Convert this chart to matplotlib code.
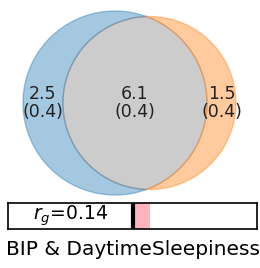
import matplotlib.pyplot as plt
import numpy as np
from matplotlib.patches import Polygon

# region sizes: left only, shared, right only (with SE)
sizes = [2.5, 6.1, 1.5]
ses = [0.4, 0.4, 0.4]
rg = 0.14
pair_label = "BIP & DaytimeSleepiness"
colors = ["tab:blue", "gray", "tab:orange"]


def lens_area(d, r1, r2):
    a1 = np.arccos((d**2 + r1**2 - r2**2) / (2 * d * r1))
    a2 = np.arccos((d**2 + r2**2 - r1**2) / (2 * d * r2))
    k = (-d + r1 + r2) * (d + r1 - r2) * (d - r1 + r2) * (d + r1 + r2)
    return r1**2 * a1 + r2**2 * a2 - 0.5 * np.sqrt(k)


def solve_distance(r1, r2, target):
    lo, hi = abs(r1 - r2) + 1e-9, r1 + r2 - 1e-9
    for _ in range(100):
        mid = 0.5 * (lo + hi)
        if lens_area(mid, r1, r2) > target:
            lo = mid
        else:
            hi = mid
    return 0.5 * (lo + hi)


r1 = np.sqrt((sizes[0] + sizes[1]) / np.pi)
r2 = np.sqrt((sizes[1] + sizes[2]) / np.pi)
d = solve_distance(r1, r2, sizes[1])

x0 = (d**2 + r1**2 - r2**2) / (2 * d)
y0 = np.sqrt(r1**2 - x0**2)
ta = np.arctan2(y0, x0)
tb = np.arctan2(y0, d - x0)


def arc(cx, r, t_from, t_to, n=200):
    t = np.linspace(t_from, t_to, n)
    return np.column_stack([cx + r * np.cos(t), r * np.sin(t)])


left = np.vstack([arc(0, r1, ta, 2 * np.pi - ta), arc(d, r2, np.pi + tb, np.pi - tb)])
mid = np.vstack([arc(0, r1, -ta, ta), arc(d, r2, np.pi - tb, np.pi + tb)])
right = np.vstack([arc(d, r2, np.pi - tb, -(np.pi - tb)), arc(0, r1, -ta, ta)])

W, H = 260, 268
fig = plt.figure(figsize=(W / 100, H / 100), dpi=100)

# venn axes, scaled so the diagram sits in the upper part
s = 92 / r1
cx_px, cy_px = 115, 103
ax = fig.add_axes([0, 0, 1, 1])
ax.set_xlim(-cx_px / s, (W - cx_px) / s)
ax.set_ylim((cy_px - H) / s, cy_px / s)
ax.axis("off")

for pts, c in zip([left, mid, right], colors):
    ax.add_patch(Polygon(pts, closed=True, color=c, alpha=0.4, lw=1))

label_x = [(-r1 + d - r2) / 2, (d - r2 + r1) / 2, (r1 + d + r2) / 2]
for x, v, e in zip(label_x, sizes, ses):
    ax.text(x, 0, f"{v:.1f}\n({e:.1f})", ha="center", va="center",
            fontsize=12.5, linespacing=1.05, color="#222222")

# genetic correlation bar
bx = fig.add_axes([8 / W, (H - 229) / H, 249 / W, 26 / H])
bx.set_xlim(-1, 1)
bx.set_ylim(0, 1)
bx.barh(0.5, rg, left=0, height=1, color="#ffb3bd")
bx.axvline(0, color="black", lw=3)
bx.text(-0.5, 0.5, r"$r_g$=" + f"{rg:.2f}", ha="center", va="center", fontsize=13.5)
bx.set_xticks([])
bx.set_yticks([])
for sp in bx.spines.values():
    sp.set_linewidth(1.2)
bx.set_xlabel(pair_label, fontsize=14.5, labelpad=8)

fig.savefig("out.png", dpi=100)
